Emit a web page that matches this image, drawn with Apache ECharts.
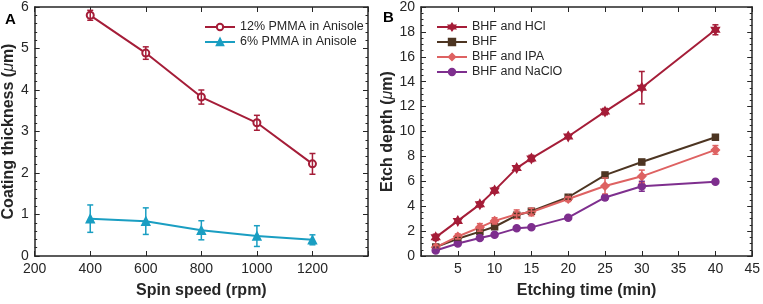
<!DOCTYPE html>
<html>
<head>
<meta charset="utf-8">
<script src="https://cdn.jsdelivr.net/npm/echarts@6/dist/echarts.min.js"></script>
<style>
  html, body { margin: 0; padding: 0; background: #fff; }
  #chart { width: 763px; height: 304px; }
</style>
</head>
<body>
<div id="chart"></div>
<script>
// 图A：涂层厚度
var spinSpeed = [400, 600, 800, 1000, 1200];
var pmma12 = [5.80, 4.89, 3.83, 3.21, 2.22];
var pmma12Err = [0.12, 0.15, 0.17, 0.18, 0.25];
var pmma6 = [0.90, 0.84, 0.62, 0.48, 0.39];
var pmma6Err = [0.33, 0.32, 0.23, 0.25, 0.12];
var xTicksA = [200, 400, 600, 800, 1000, 1200];

// 图B：刻蚀深度
var etchTime = [2, 5, 8, 10, 13, 15, 20, 25, 30, 40];
var bhfHcl = [1.50, 2.82, 4.15, 5.27, 7.06, 7.84, 9.60, 11.60, 13.52, 18.17];
var bhfHclErr = [0.25, 0.15, 0.20, 0.22, 0.15, 0.25, 0.15, 0.25, 1.30, 0.40];
var bhf = [0.72, 1.38, 1.96, 2.35, 3.27, 3.60, 4.72, 6.50, 7.55, 9.54];
var bhfErr = [0.10, 0.10, 0.10, 0.15, 0.15, 0.12, 0.15, 0.20, 0.20, 0.12];
var bhfIpa = [0.70, 1.57, 2.30, 2.82, 3.35, 3.53, 4.58, 5.62, 6.40, 8.52];
var bhfIpaErr = [0.15, 0.20, 0.30, 0.25, 0.35, 0.30, 0.20, 0.65, 0.50, 0.35];
var bhfNaclo = [0.44, 1.00, 1.44, 1.70, 2.22, 2.30, 3.08, 4.70, 5.60, 5.96];
var bhfNacloErr = [0.10, 0.10, 0.10, 0.10, 0.10, 0.10, 0.10, 0.20, 0.40, 0.10];

var fontFamily = "'Liberation Sans', Arial, sans-serif";
var ink = "#262626";
var hexagram = "path://M0 -100L28.9 -50L86.6 -50L57.7 0L86.6 50L28.9 50L0 100L-28.9 50L-86.6 50L-57.7 0L-86.6 -50L-28.9 -50Z";

function pairs(xs, ys) {
  return xs.map(function (x, i) { return [x, ys[i]]; });
}
function errData(xs, ys, es) {
  return xs.map(function (x, i) { return [x, ys[i] - es[i], ys[i] + es[i]]; });
}
function errRender(color) {
  return function (params, api) {
    var x = api.value(0);
    var lo = api.coord([x, api.value(1)]);
    var hi = api.coord([x, api.value(2)]);
    var w = 3;
    var st = { stroke: color, lineWidth: 1.5 };
    return {
      type: "group",
      children: [
        { type: "line", shape: { x1: lo[0], y1: lo[1], x2: hi[0], y2: hi[1] }, style: st },
        { type: "line", shape: { x1: lo[0] - w, y1: lo[1], x2: lo[0] + w, y2: lo[1] }, style: st },
        { type: "line", shape: { x1: hi[0] - w, y1: hi[1], x2: hi[0] + w, y2: hi[1] }, style: st },
      ],
    };
  };
}

// 坐标轴（带内侧刻度的方框）
function axis(opt) {
  var a = {
    type: "value",
    gridIndex: opt.grid,
    position: opt.position,
    min: opt.min,
    max: opt.max,
    interval: opt.interval,
    axisLine: { show: true, onZero: false, lineStyle: { color: ink, width: 1.5 } },
    axisTick: { show: true, inside: true, length: 5, lineStyle: { color: ink, width: 1 } },
    minorTick: { show: !!opt.minor, splitNumber: opt.minor || 5, length: 2.5, lineStyle: { color: ink, width: 1 } },
    splitLine: { show: false },
    axisLabel: {
      show: !!opt.labels,
      color: ink,
      fontSize: 14,
      fontFamily: fontFamily,
      margin: 6,
      formatter: opt.formatter,
    },
  };
  if (opt.name) {
    a.name = opt.name;
    a.nameLocation = "middle";
    a.nameGap = opt.nameGap;
    a.nameTextStyle = {
      color: ink,
      fontSize: 16,
      fontWeight: "bold",
      fontFamily: fontFamily,
      rich: {
        b: { color: ink, fontSize: 16, fontWeight: "bold", fontFamily: fontFamily },
        mu: { color: ink, fontSize: 16, fontStyle: "italic", fontWeight: "normal", fontFamily: fontFamily },
      },
    };
  }
  return a;
}

function lineSeries(name, xi, yi, xs, ys, color, symbol, size) {
  return {
    name: name,
    type: "line",
    xAxisIndex: xi,
    yAxisIndex: yi,
    data: pairs(xs, ys),
    symbol: symbol,
    symbolSize: size,
    symbolKeepAspect: true,
    lineStyle: { color: color, width: 2 },
    itemStyle: { color: color, borderColor: color, borderWidth: 1.5 },
    z: 3,
  };
}
function errSeries(name, xi, yi, xs, ys, es, color) {
  return {
    name: name,
    type: "custom",
    xAxisIndex: xi,
    yAxisIndex: yi,
    data: errData(xs, ys, es),
    renderItem: errRender(color),
    encode: { x: 0, y: [1, 2] },
    z: 4,
  };
}

var red = "#a51d38";
var cyan = "#1a9ec2";
var brown = "#4d3522";
var salmon = "#de6262";
var purple = "#7e2f8e";

var legendStyle = {
  orient: "vertical",
  top: 15.5,
  itemWidth: 30,
  itemHeight: 8,
  itemGap: 2,
  textStyle: { color: ink, fontSize: 12.5, fontFamily: fontFamily },
};

var myChart = echarts.init(document.getElementById("chart"));
var option = {
  animation: false,
  backgroundColor: "#fff",
  grid: [
    { left: 32, right: 395, top: 5, bottom: 44 },
    { left: 421, right: 9, top: 5, bottom: 44 },
  ],
  xAxis: [
    axis({ grid: 0, position: "bottom", min: 200, max: 1400, interval: 200, labels: true,
      formatter: function (v) { return xTicksA.indexOf(v) >= 0 ? String(v) : ""; },
      name: "Spin speed (rpm)", nameGap: 27 }),
    axis({ grid: 0, position: "top", min: 200, max: 1400, interval: 200 }),
    axis({ grid: 1, position: "bottom", min: 0, max: 45, interval: 5, labels: true,
      formatter: function (v) { return v === 0 ? "" : String(v); },
      name: "Etching time (min)", nameGap: 27 }),
    axis({ grid: 1, position: "top", min: 0, max: 45, interval: 5 }),
  ],
  yAxis: [
    axis({ grid: 0, position: "left", min: 0, max: 6, interval: 1, labels: true, minor: 5,
      name: "{b|Coating thickness (}{mu|μ}{b|m)}", nameGap: 12 }),
    axis({ grid: 0, position: "right", min: 0, max: 6, interval: 1, minor: 5 }),
    axis({ grid: 1, position: "left", min: 0, max: 20, interval: 2, labels: true, minor: 4,
      name: "{b|Etch depth (}{mu|μ}{b|m)}", nameGap: 23 }),
    axis({ grid: 1, position: "right", min: 0, max: 20, interval: 2, minor: 4 }),
  ],
  legend: [
    Object.assign({ data: ["12% PMMA in Anisole", "6% PMMA in Anisole"], left: 199 }, legendStyle),
    Object.assign({ data: ["BHF and HCl", "BHF", "BHF and IPA", "BHF and NaClO"], left: 431 }, legendStyle),
  ],
  graphic: [
    { type: "text", left: 5, top: 12, style: { text: "A", fontSize: 15, fontWeight: "bold", fontFamily: fontFamily, fill: "#000" } },
    { type: "text", left: 383, top: 10, style: { text: "B", fontSize: 15, fontWeight: "bold", fontFamily: fontFamily, fill: "#000" } },
  ],
  series: [
    lineSeries("12% PMMA in Anisole", 0, 0, spinSpeed, pmma12, red, "emptyCircle", 7),
    errSeries("err12", 0, 0, spinSpeed, pmma12, pmma12Err, red),
    lineSeries("6% PMMA in Anisole", 0, 0, spinSpeed, pmma6, cyan, "triangle", 8),
    errSeries("err6", 0, 0, spinSpeed, pmma6, pmma6Err, cyan),

    lineSeries("BHF and HCl", 2, 2, etchTime, bhfHcl, red, hexagram, 9),
    errSeries("errHcl", 2, 2, etchTime, bhfHcl, bhfHclErr, red),
    lineSeries("BHF", 2, 2, etchTime, bhf, brown, "rect", 6),
    errSeries("errBhf", 2, 2, etchTime, bhf, bhfErr, brown),
    lineSeries("BHF and IPA", 2, 2, etchTime, bhfIpa, salmon, "diamond", 8),
    errSeries("errIpa", 2, 2, etchTime, bhfIpa, bhfIpaErr, salmon),
    lineSeries("BHF and NaClO", 2, 2, etchTime, bhfNaclo, purple, "circle", 7),
    errSeries("errNaclo", 2, 2, etchTime, bhfNaclo, bhfNacloErr, purple),
  ],
};
myChart.setOption(option);
window.addEventListener("resize", () => {
  myChart.resize();
});
</script>
</body>
</html>
